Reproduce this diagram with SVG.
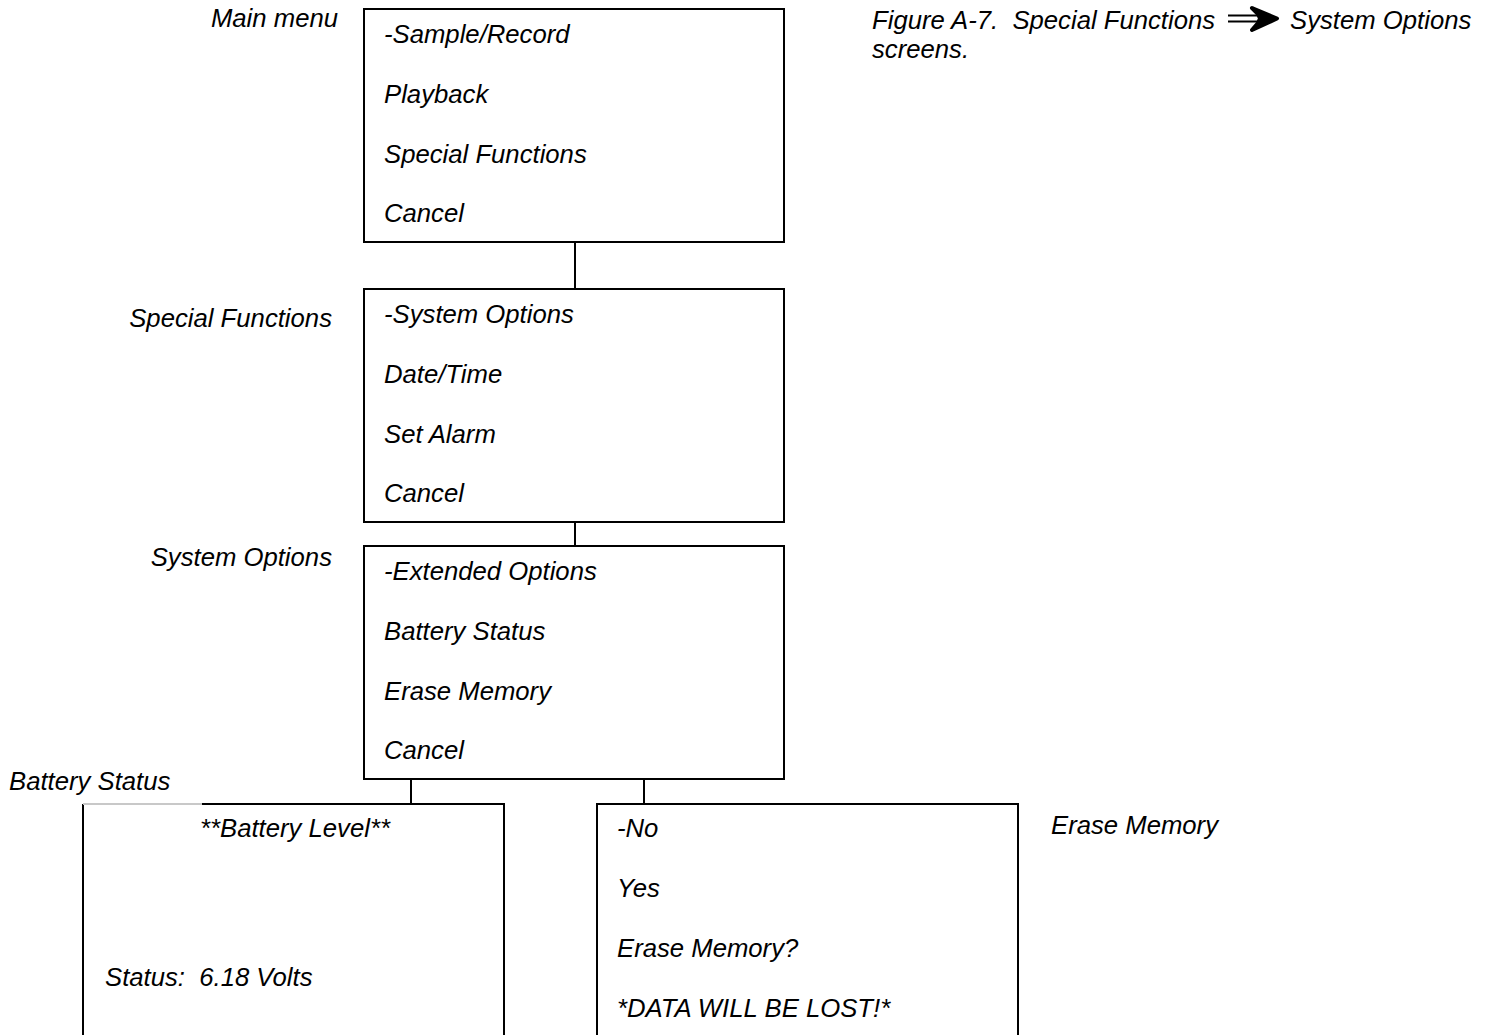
<svg xmlns="http://www.w3.org/2000/svg" width="1496" height="1035" viewBox="0 0 1496 1035">
<style>
text{font-family:"Liberation Sans",Arial,sans-serif;font-style:italic;font-size:25.7px;fill:#000}
.box{fill:#fff;stroke:#000;stroke-width:2}
.conn{stroke:#000;stroke-width:2;fill:none}
.lbl{text-anchor:end}
</style>
<rect width="1496" height="1035" fill="#fff"/>
<g id="caption">
<text x="872" y="29" xml:space="preserve">Figure A-7.  Special Functions</text>
<line x1="1228" y1="15.5" x2="1258" y2="15.5" stroke="#000" stroke-width="2"/>
<line x1="1228" y1="21.5" x2="1258" y2="21.5" stroke="#000" stroke-width="2"/>
<polygon points="1252,8 1277,18.5 1252,30 1258,23 1260,18.5 1258,14" fill="#000" stroke="#000" stroke-width="4" stroke-linejoin="round"/>
<text x="1290" y="29">System Options</text>
<text x="872" y="58">screens.</text>
</g>
<g id="connectors">
<line class="conn" x1="575" y1="242" x2="575" y2="289"/>
<line class="conn" x1="575" y1="522" x2="575" y2="546"/>
<line class="conn" x1="411" y1="779" x2="411" y2="803"/>
<line class="conn" x1="644" y1="779" x2="644" y2="803"/>
</g>
<g id="main-menu">
<text class="lbl" x="338" y="27">Main menu</text>
<rect class="box" x="364" y="9" width="420" height="233"/>
<text x="384" y="43">-Sample/Record</text>
<text x="384" y="103">Playback</text>
<text x="384" y="163">Special Functions</text>
<text x="384" y="222">Cancel</text>
</g>
<g id="special-functions">
<text class="lbl" x="332" y="327">Special Functions</text>
<rect class="box" x="364" y="289" width="420" height="233"/>
<text x="384" y="323">-System Options</text>
<text x="384" y="383">Date/Time</text>
<text x="384" y="443">Set Alarm</text>
<text x="384" y="502">Cancel</text>
</g>
<g id="system-options">
<text class="lbl" x="332" y="566">System Options</text>
<rect class="box" x="364" y="546" width="420" height="233"/>
<text x="384" y="580">-Extended Options</text>
<text x="384" y="640">Battery Status</text>
<text x="384" y="700">Erase Memory</text>
<text x="384" y="759">Cancel</text>
</g>
<g id="battery-status">
<text x="9" y="790">Battery Status</text>
<path d="M202,804 H504 V1040 M83,804 V1040" class="conn"/>
<line x1="83" y1="804" x2="202" y2="804" stroke="#c8c8c8" stroke-width="2"/>
<text x="200" y="837">**Battery Level**</text>
<text x="105" y="986" xml:space="preserve">Status:  6.18 Volts</text>
</g>
<g id="erase-memory">
<text x="1051" y="834">Erase Memory</text>
<path d="M597,1040 V804 H1018 V1040" class="conn"/>
<text x="617" y="837">-No</text>
<text x="617" y="897">Yes</text>
<text x="617" y="957">Erase Memory?</text>
<text x="617" y="1017">*DATA WILL BE LOST!*</text>
</g>
</svg>
